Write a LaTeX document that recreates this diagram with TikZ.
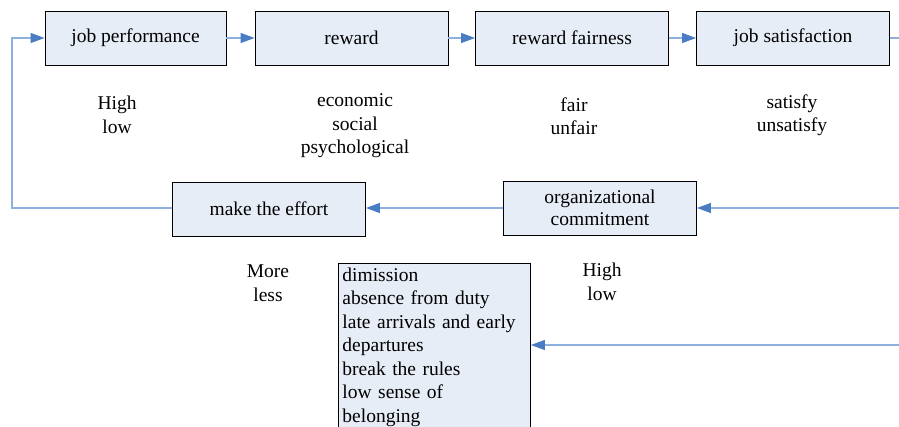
\documentclass[tikz,border=0pt]{standalone}
\usepackage{fontspec}
\setmainfont{Liberation Serif}
\usetikzlibrary{arrows.meta}
\definecolor{boxfill}{HTML}{E7EDF7}
\definecolor{linecol}{HTML}{8DB0DF}
\definecolor{tipcol}{HTML}{4A7CC4}
\tikzset{
  box/.style={draw=black, line width=0.9pt, fill=boxfill, minimum width=#1, minimum height=54pt, inner sep=2pt, align=center, font=\fontsize{19.5}{23}\selectfont},
  box/.default=193pt,
  lbl/.style={align=center, inner sep=0pt, font=\fontsize{19.5}{23.5}\selectfont},
  conn/.style={draw=linecol, line width=1.1pt, -{Triangle[length=14pt,width=10pt,color=tipcol]}},
  plain/.style={draw=linecol, line width=1.1pt}
}
\begin{document}
\begin{tikzpicture}[x=1pt,y=-1pt]
\useasboundingbox (0,0) rectangle (899,427);
\clip (0,0) rectangle (899,427);
% top row
\node[box=181pt] (jp) at (135.5,38) {job performance};
\node[box] (rw) at (351.5,38) {reward};
\node[box] (rf) at (572,38) {reward fairness};
\node[box] (js) at (793,38) {job satisfaction};
% middle row
\node[box] (me) at (269,209) {make the effort};
\node[box] (oc) at (600,208) {organizational\\[-1pt]commitment};
% bottom list box
\node[draw=black, line width=0.9pt, fill=boxfill, anchor=north west, text width=184pt, minimum width=192pt, inner xsep=4pt, inner ysep=4.5pt, align=left, font=\fontsize{19.5}{23.5}\selectfont] (bx) at (338,263) {dimission\\absence from duty\\late arrivals and early\\departures\\break the rules\\low sense of\\belonging\\[-2pt]\strut};
% labels
\node[lbl] (l1) at (117,115) {High\\low};
\node[lbl] (l2) at (355,126) {economic\\social\\psychological};
\node[lbl] (l3) at (574,116) {fair\\unfair};
\node[lbl] (l4) at (792,115) {satisfy\\unsatisfy};
\node[lbl] (l5) at (268,283) {More\\less};
\node[lbl] (l6) at (602,282) {High\\low};
% coordinates
\coordinate (e1) at (899,38);
\coordinate (e2) at (899,208);
\coordinate (e3) at (899,345);
\coordinate (fbl) at (12,208);
\coordinate (fbt) at (12,38);
% connectors
\draw[conn] (jp) -- (rw);
\draw[conn] (rw) -- (rf);
\draw[conn] (rf) -- (js);
\draw[plain] (js.east) -- (e1);
\draw[conn] (e2) -- (oc.east);
\draw[conn] (oc.west) -- (me.east |- oc.west);
\draw[conn] (me.west |- fbl) -- (fbl) -- (fbt) -- (jp.west);
\draw[conn] (e3) -- (bx.east |- e3);
\end{tikzpicture}
\end{document}
